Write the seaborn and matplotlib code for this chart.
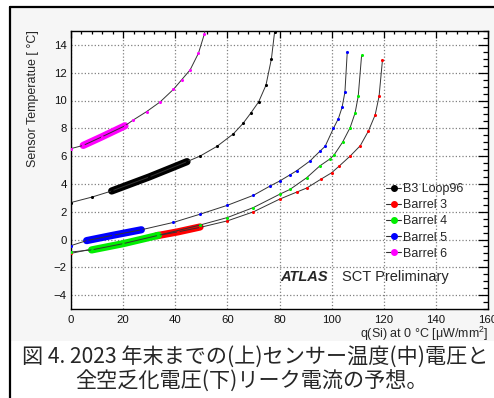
import matplotlib
matplotlib.use("Agg")
import matplotlib.pyplot as plt
import seaborn as sns
import pandas as pd
from matplotlib.lines import Line2D
from matplotlib.patches import Rectangle
from matplotlib.ticker import MultipleLocator

# ---------------- data ----------------
series_names = ["B3 Loop96", "Barrel 3", "Barrel 4", "Barrel 5", "Barrel 6"]
series_colors = ["#000000", "#ff0000", "#00ee00", "#0000ff", "#ff00ff"]

# prediction curves (thin)
b3_x = [0, 8, 15.6, 30, 44.5, 49.5, 56, 62.3, 66, 69, 72, 74.8, 76.9, 78.1, 78.5]
b3_y = [2.66, 3.05, 3.49, 4.5, 5.6, 6.0, 6.7, 7.6, 8.35, 9.1, 9.9, 11.1, 13.0, 14.9, 15.5]
bar3_x = [0, 10, 20, 32.9, 41, 49.5, 60, 70, 80, 86.6, 90.4, 96, 100, 103, 107.1, 111, 114.1, 116.7, 118.2, 119.5]
bar3_y = [-1.0, -0.6, -0.2, 0.27, 0.55, 0.87, 1.34, 1.99, 2.9, 3.41, 3.7, 4.35, 4.8, 5.3, 6.0, 6.75, 7.8, 8.96, 10.3, 12.9]
bar4_x = [0, 7.9, 20, 33.5, 49.5, 60, 70, 80, 84, 90.4, 95.5, 99.4, 101, 104.2, 107.1, 109, 110.2, 111.5]
bar4_y = [-0.9, -0.75, -0.3, 0.3, 1.04, 1.58, 2.3, 3.25, 3.6, 4.44, 5.3, 5.8, 6.1, 7.0, 8.05, 9.1, 10.3, 13.25]
bar5_x = [0, 6, 16, 27, 39.3, 49.5, 60, 70, 76.4, 80, 84, 86.6, 91.7, 95.5, 97.5, 100.7, 102.6, 104, 105.1, 106]
bar5_y = [-0.44, -0.08, 0.3, 0.7, 1.23, 1.82, 2.46, 3.18, 3.85, 4.2, 4.65, 4.95, 5.65, 6.35, 6.7, 8.0, 8.7, 9.5, 10.6, 13.5]
bar6_x = [0, 4.7, 12, 20.7, 23.9, 29, 34.2, 39.3, 42.5, 45.7, 48.9, 51.2, 51.6]
bar6_y = [6.54, 6.77, 7.4, 8.18, 8.6, 9.2, 9.9, 10.8, 11.5, 12.2, 13.4, 14.8, 15.3]

# measured ranges (thick)
b3_thick_x = [15.6, 30, 44.5]
b3_thick_y = [3.49, 4.5, 5.6]
bar3_thick_x = [32.9, 41, 49.5]
bar3_thick_y = [0.27, 0.55, 0.9]
bar4_thick_x = [7.9, 20, 33.5]
bar4_thick_y = [-0.75, -0.3, 0.3]
bar5_thick_x = [6, 16, 27]
bar5_thick_y = [-0.08, 0.3, 0.7]
bar6_thick_x = [4.7, 12, 20.7]
bar6_thick_y = [6.77, 7.4, 8.18]

x_ticks = [0, 20, 40, 60, 80, 100, 120, 140, 160]
y_ticks = [-4, -2, 0, 2, 4, 6, 8, 10, 12, 14]

curves_x = [b3_x, bar3_x, bar4_x, bar5_x, bar6_x]
curves_y = [b3_y, bar3_y, bar4_y, bar5_y, bar6_y]
thick_x = [b3_thick_x, bar3_thick_x, bar4_thick_x, bar5_thick_x, bar6_thick_x]
thick_y = [b3_thick_y, bar3_thick_y, bar4_thick_y, bar5_thick_y, bar6_thick_y]

# ---------------- style ----------------
sns.set_theme(style="white")
plt.rcParams["font.family"] = ["Liberation Sans", "DejaVu Sans"]
plt.rcParams["mathtext.fontset"] = "custom"
plt.rcParams["mathtext.rm"] = "Liberation Sans"
plt.rcParams["mathtext.it"] = "Liberation Sans:italic"
plt.rcParams["mathtext.default"] = "regular"

W, H = 494, 398
fig = plt.figure(figsize=(W / 100, H / 100), dpi=100)
fig.patch.set_facecolor("white")


def fx(px):
    return px / W


def fy(py):
    return 1 - py / H


# background of the chart picture and the page frame
fig.add_artist(Rectangle((fx(11), fy(341)), fx(W - 11), (341 - 8) / H,
                         transform=fig.transFigure, facecolor="#f6f6f6",
                         edgecolor="none", zorder=-10))
fig.add_artist(Line2D([fx(9.5), fx(9.5)], [0, fy(6.5)], color="black", lw=1.6,
                      transform=fig.transFigure))
fig.add_artist(Line2D([fx(9.5), 1], [fy(6.5), fy(6.5)], color="black", lw=1.6,
                      transform=fig.transFigure))

ax = fig.add_axes([fx(71), fy(309), (488 - 71) / W, (309 - 31) / H])
ax.set_facecolor("white")
ax.set_axisbelow(True)

for i, name in enumerate(series_names):
    col = series_colors[i]
    cdf = pd.DataFrame({"x": curves_x[i], "y": curves_y[i]})
    tdf = pd.DataFrame({"x": thick_x[i], "y": thick_y[i]})
    sns.lineplot(data=tdf, x="x", y="y", ax=ax, color=col, lw=5.2, sort=False,
                 estimator=None, solid_capstyle="round", zorder=3 + i)
    sns.lineplot(data=cdf, x="x", y="y", ax=ax, color="#333333", lw=0.7, sort=False,
                 estimator=None, zorder=3 + i)
    sns.scatterplot(data=cdf, x="x", y="y", ax=ax, color=col, s=5, linewidth=0,
                    zorder=3 + i)

ax.set_xlim(0, 160)
ax.set_ylim(-5, 15)
ax.set_xticks(x_ticks)
ax.set_yticks(y_ticks)
ax.xaxis.set_minor_locator(MultipleLocator(4))
ax.yaxis.set_minor_locator(MultipleLocator(0.5))
ax.set_xlabel("")
ax.set_ylabel("")
ax.tick_params(which="both", direction="in", top=True, right=True,
               labelsize=8.2, color="black", width=0.9, labelcolor="#111111")
ax.tick_params(axis="y", which="major", length=7.5, pad=3)
ax.tick_params(axis="y", which="minor", length=3.8)
ax.tick_params(axis="x", which="major", length=5, pad=4)
ax.tick_params(axis="x", which="minor", length=2.5)
ax.xaxis.grid(True, which="major", linestyle=":", color="#808080", linewidth=0.9)
ax.yaxis.grid(True, which="major", linestyle=":", color="#808080", linewidth=0.9)
for s in ax.spines.values():
    s.set_color("black")
    s.set_linewidth(1.0)

# legend
handles = [Line2D([0], [0], color="#333333", lw=0.8, marker="o", markersize=4,
                  markerfacecolor=c, markeredgecolor=c) for c in series_colors]
leg = ax.legend(handles, series_names, loc="upper left",
                bbox_to_anchor=(fx(380), fy(177)), bbox_transform=fig.transFigure,
                frameon=False, fontsize=9, handlelength=1.2, handletextpad=0.15,
                labelspacing=0.33, borderpad=0)

fig.text(fx(280), fy(277), "ATLAS", fontsize=10.5, fontweight="bold",
         style="italic", va="center", ha="left")
fig.text(fx(342), fy(277), "SCT Preliminary", fontsize=10.5, va="center", ha="left")

fig.text(fx(33), fy(30), "Sensor Temperatue [ °C]", rotation=90, fontsize=9,
         ha="center", va="top")
fig.text(fx(488), fy(334), r"q(Si) at 0 °C [μW/mm$^{2}$]", fontsize=9,
         ha="right", va="center")

cjk = ["Noto Sans CJK JP", "DejaVu Sans"]
fig.text(fx(255), fy(357), "図 4. 2023 年末までの(上)センサー温度(中)電圧と",
         fontsize=15.2, family=cjk, ha="center", va="center")
fig.text(fx(251), fy(381), "全空乏化電圧(下)リーク電流の予想。",
         fontsize=15.2, family=cjk, ha="center", va="center")

fig.savefig("out.png", dpi=100)
